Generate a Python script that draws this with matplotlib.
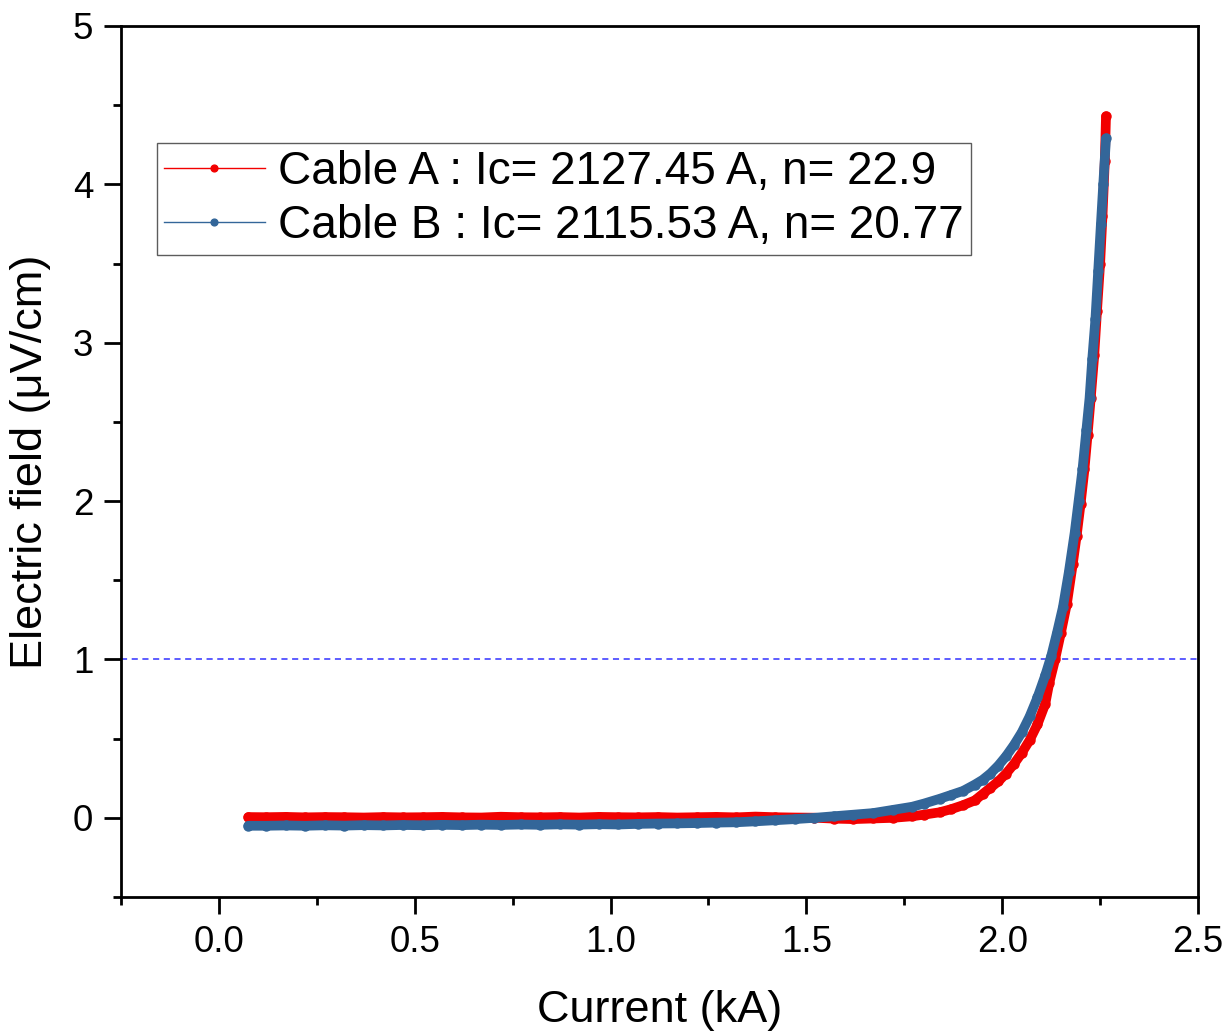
import matplotlib
matplotlib.use("Agg")
import matplotlib.pyplot as plt
from matplotlib.ticker import MultipleLocator

plt.rcParams['font.family'] = ['Liberation Sans', 'DejaVu Sans']

# Cable A, current in kA, field in uV/cm
curA = [0.075, 0.12, 0.17, 0.22, 0.27, 0.32, 0.37, 0.42, 0.47, 0.52, 0.57, 0.62, 0.67,
        0.72, 0.77, 0.82, 0.87, 0.92, 0.97, 1.02, 1.07, 1.12, 1.17, 1.22, 1.27, 1.32,
        1.37, 1.42, 1.47, 1.52, 1.57, 1.62, 1.67, 1.72, 1.77, 1.80, 1.84, 1.87, 1.90,
        1.93, 1.95, 1.97, 1.99, 2.01, 2.03, 2.05, 2.07, 2.09, 2.11, 2.12, 2.135, 2.15,
        2.165, 2.18, 2.19, 2.20, 2.21, 2.218, 2.226, 2.235, 2.242, 2.25, 2.256, 2.262,
        2.265]
fieldA = [0.005, 0.004, 0.006, 0.003, 0.005, 0.004, 0.002, 0.005, 0.003, 0.004, 0.006,
          0.003, 0.002, 0.007, 0.004, 0.003, 0.005, 0.002, 0.006, 0.004, 0.003, 0.005,
          0.002, 0.004, 0.006, 0.003, 0.008, 0.004, 0.002, 0.001, -0.005, -0.008, -0.004,
          0.0, 0.01, 0.02, 0.035, 0.055, 0.08, 0.11, 0.15, 0.19, 0.23, 0.28, 0.34, 0.41,
          0.49, 0.59, 0.72, 0.85, 1.0, 1.17, 1.35, 1.6, 1.78, 1.98, 2.2, 2.42, 2.65, 2.92,
          3.2, 3.5, 3.8, 4.15, 4.43]

# Cable B
curB = [0.075, 0.12, 0.17, 0.22, 0.27, 0.32, 0.37, 0.42, 0.47, 0.52, 0.57, 0.62, 0.67,
        0.72, 0.77, 0.82, 0.87, 0.92, 0.97, 1.02, 1.07, 1.12, 1.17, 1.22, 1.27, 1.32,
        1.37, 1.42, 1.47, 1.52, 1.57, 1.62, 1.67, 1.72, 1.77, 1.80, 1.84, 1.87, 1.90,
        1.93, 1.95, 1.97, 1.99, 2.01, 2.03, 2.05, 2.07, 2.09, 2.11, 2.125, 2.14, 2.155,
        2.17, 2.185, 2.195, 2.205, 2.215, 2.223, 2.23, 2.238, 2.245, 2.252, 2.258, 2.265]
fieldB = [-0.05, -0.05, -0.048, -0.05, -0.047, -0.049, -0.046, -0.048, -0.045, -0.047,
          -0.044, -0.046, -0.043, -0.045, -0.042, -0.044, -0.041, -0.043, -0.04, -0.042,
          -0.038, -0.036, -0.035, -0.033, -0.03, -0.028, -0.022, -0.015, -0.008, 0.0,
          0.01, 0.02, 0.03, 0.05, 0.07, 0.09, 0.12, 0.145, 0.17, 0.21, 0.24, 0.28, 0.33,
          0.39, 0.46, 0.54, 0.64, 0.76, 0.9, 1.02, 1.17, 1.33, 1.55, 1.8, 2.0, 2.2, 2.45,
          2.65, 2.9, 3.15, 3.45, 3.75, 4.0, 4.29]

labelA = "Cable A : Ic= 2127.45 A, n= 22.9"
labelB = "Cable B : Ic= 2115.53 A, n= 20.77"
colA = "#f20000"
colB = "#336699"

fig = plt.figure(figsize=(12.29, 10.35), dpi=100)
ax = fig.add_axes([0.0985, 0.1333, 0.8763, 0.8416])

# thick band under the dense measured points
ax.plot(curA, fieldA, color=colA, lw=7, solid_capstyle="round", zorder=2)
ax.plot(curA, fieldA, color=colA, lw=1, marker="o", ms=6.5, mec=colA, label=labelA, zorder=3)
ax.plot(curB, fieldB, color=colB, lw=7, solid_capstyle="round", zorder=4)
ax.plot(curB, fieldB, color=colB, lw=1, marker="o", ms=6.5, mec=colB, label=labelB, zorder=5)

ax.axhline(1, color="#3030ff", lw=1.1, ls=(0, (4, 3)), zorder=1)

ax.set_xlim(-0.25, 2.5)
ax.set_ylim(-0.5, 5)
ax.xaxis.set_minor_locator(MultipleLocator(0.25))
ax.yaxis.set_minor_locator(MultipleLocator(0.5))
ax.set_xticks([0.0, 0.5, 1.0, 1.5, 2.0, 2.5])
ax.set_xticklabels(["0.0", "0.5", "1.0", "1.5", "2.0", "2.5"])
ax.set_yticks([0, 1, 2, 3, 4, 5])

ax.tick_params(which="major", direction="out", length=12, width=2, labelsize=26.5, pad=8)
ax.tick_params(which="minor", direction="out", length=6, width=2)
for s in ax.spines.values():
    s.set_linewidth(2)

ax.set_xlabel("Current (kA)", fontsize=32.5, labelpad=22)
ax.set_ylabel("Electric field (\u03bcV/cm)", fontsize=32.5, labelpad=16)

leg = ax.legend(loc="upper left", bbox_to_anchor=(0.0334, 0.8657), fontsize=33,
                frameon=True, fancybox=False, handlelength=2.2, handletextpad=0.3,
                borderpad=0.15, labelspacing=0.22, borderaxespad=0, markerscale=0.75)
leg.get_frame().set_edgecolor("#333333")
leg.get_frame().set_linewidth(1)

fig.savefig("out.png", dpi=100)
